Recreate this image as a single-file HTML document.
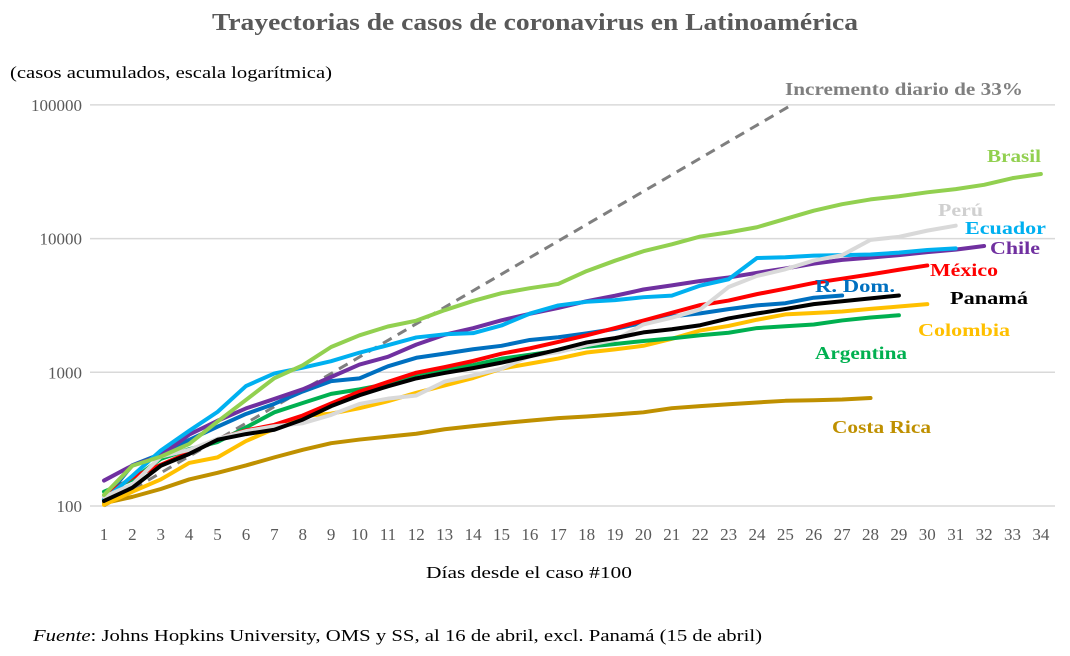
<!DOCTYPE html>
<html><head><meta charset="utf-8"><style>
body{margin:0;background:#fff;}
svg{display:block;font-family:"Liberation Serif",serif;}
</style></head><body>
<svg id="chart" width="1070" height="656" viewBox="0 0 1070 656">
<text x="212" y="30" textLength="646" lengthAdjust="spacingAndGlyphs" font-size="24" font-weight="bold" fill="#595959">Trayectorias de casos de coronavirus en Latinoamérica</text>
<text x="10" y="78" textLength="322" lengthAdjust="spacingAndGlyphs" font-size="17" fill="#000">(casos acumulados, escala logarítmica)</text>
<text x="426" y="578" textLength="206" lengthAdjust="spacingAndGlyphs" font-size="17" fill="#000">Días desde el caso #100</text>
<text x="33" y="641" textLength="729" lengthAdjust="spacingAndGlyphs" font-size="17" fill="#000"><tspan font-style="italic">Fuente</tspan>: Johns Hopkins University, OMS y SS, al 16 de abril, excl. Panamá (15 de abril)</text>
<g id="grid"></g><g id="lines"></g><g id="labels"></g>
</svg>
<script>
const days = Array.from({length:34},(_,i)=>i+1);
const yTicks = [100,1000,10000,100000];
const yTickLabels = ["100","1000","10000","100000"];
const brasil=[121,200,234,291,428,621,904,1128,1546,1891,2201,2433,2915,3417,3904,4256,4579,5717,6836,8044,9056,10360,11130,12161,14034,16170,18092,19638,20727,22192,23430,25262,28320,30425];
const ecuador=[111,168,260,365,506,789,981,1082,1211,1403,1595,1823,1924,1962,2240,2748,3163,3368,3465,3646,3747,4450,4965,7161,7257,7466,7529,7603,7858,8225,8450];
const chile=[155,201,238,342,434,537,632,746,922,1142,1306,1610,1909,2139,2449,2738,3031,3404,3737,4161,4471,4815,5116,5546,5972,6501,6927,7213,7525,7917,8273,8807];
const mexico=[118,164,203,251,316,367,405,475,585,717,848,993,1094,1215,1378,1510,1688,1890,2143,2439,2785,3181,3441,3844,4219,4661,5014,5399,5847,6297];
const peru=[117,145,234,263,318,363,395,416,480,580,635,671,852,950,1065,1323,1414,1595,1746,2281,2561,2954,4342,5256,5897,6848,7519,9784,10303,11475,12491];
const rdom=[112,202,245,312,392,488,581,719,859,901,1109,1284,1380,1488,1578,1745,1828,1956,2111,2349,2620,2759,2967,3167,3286,3614,3755];
const panama=[109,137,200,245,313,345,372,443,558,674,786,901,989,1075,1181,1317,1475,1673,1801,1988,2100,2249,2528,2752,2974,3234,3400,3574,3751];
const colombia=[102,128,158,210,231,306,378,470,491,539,608,702,798,906,1065,1161,1267,1406,1485,1579,1780,2054,2223,2473,2709,2776,2852,2979,3105,3233];
const argentina=[128,158,225,266,301,387,502,589,690,745,820,966,1054,1133,1265,1353,1451,1554,1628,1715,1795,1894,1975,2142,2208,2277,2443,2571,2669];
const costarica=[105,117,134,158,177,201,231,263,295,314,330,347,375,396,416,435,454,467,483,502,539,558,577,595,612,618,626,642];
const growthRate=0.33;
const NS="http://www.w3.org/2000/svg";
const X0=104,DX=28.39,Y100=506,DEC=133.7;
const xs=d=>X0+(d-1)*DX;
const ys=v=>Y100-DEC*Math.log10(v/100);
function mk(tag,attrs,parent){const e=document.createElementNS(NS,tag);for(const k in attrs)e.setAttribute(k,attrs[k]);parent.appendChild(e);return e;}
const grid=document.getElementById('grid'),lines=document.getElementById('lines'),labels=document.getElementById('labels');
yTicks.forEach((t,i)=>{
  const l=mk('line',{x1:90,x2:1055,y1:ys(t),y2:ys(t),stroke:'#d9d9d9','stroke-width':1.5},grid);
  
  
  const tx=mk('text',{x:82,y:ys(t)+6,'text-anchor':'end','font-size':17,fill:'#595959'},grid);
  tx.textContent=yTickLabels[i];
  
  
});
days.forEach(d=>{
  const tx=mk('text',{x:xs(d),y:540,'text-anchor':'middle','font-size':17,fill:'#595959'},grid);
  tx.textContent=d;
  
  
});
const ref=[];for(let d=1;d<=34;d++){const v=100*Math.pow(1+growthRate,d-1);if(v>100000){const dd=1+Math.log(1000)/Math.log(1+growthRate);ref.push([xs(dd),ys(100000)]);break;}ref.push([xs(d),ys(v)]);}
const rl=mk('polyline',{points:ref.map(p=>p.join(',')).join(' '),fill:'none',stroke:'#7f7f7f','stroke-width':3,'stroke-dasharray':'10,7'},lines);


const series=[
 ['costa-rica',costarica,'#bf9000'],['colombia',colombia,'#ffc000'],['argentina',argentina,'#00b050'],['rdom',rdom,'#0070c0'],
 ['chile',chile,'#7030a0'],['mexico',mexico,'#ff0000'],['ecuador',ecuador,'#00b0f0'],['peru',peru,'#d9d9d9'],
 ['panama',panama,'#000000'],['brasil',brasil,'#92d050']];
series.forEach(([n,vals,c])=>{
  const p=mk('polyline',{points:vals.map((v,i)=>xs(i+1)+','+ys(v)).join(' '),fill:'none',stroke:c,'stroke-width':4,'stroke-linejoin':'round','stroke-linecap':'round'},lines);
  
  
});
const labs=[['Incremento diario de 33%',785,95,'#7f7f7f',238],['Brasil',987,162,'#92d050',54],['Perú',938,216,'#d0d0d0',45],['Ecuador',965,234,'#00b0f0',81],
 ['Chile',990,254,'#7030a0',50],['México',930,276,'#ff0000',68],['R. Dom.',815,292,'#0070c0',80],['Panamá',950,304,'#000',78],
 ['Colombia',918,336,'#ffc000',92],['Argentina',815,359,'#00b050',92],['Costa Rica',832,433,'#bf9000',99]];
labs.forEach(([t,x,y,c,w])=>{
  const e=mk('text',{x:x,y:y,'font-size':18,'font-weight':'bold',fill:c,textLength:w,lengthAdjust:'spacingAndGlyphs'},labels);
  e.textContent=t;
  
  
});
</script>
</body></html>
